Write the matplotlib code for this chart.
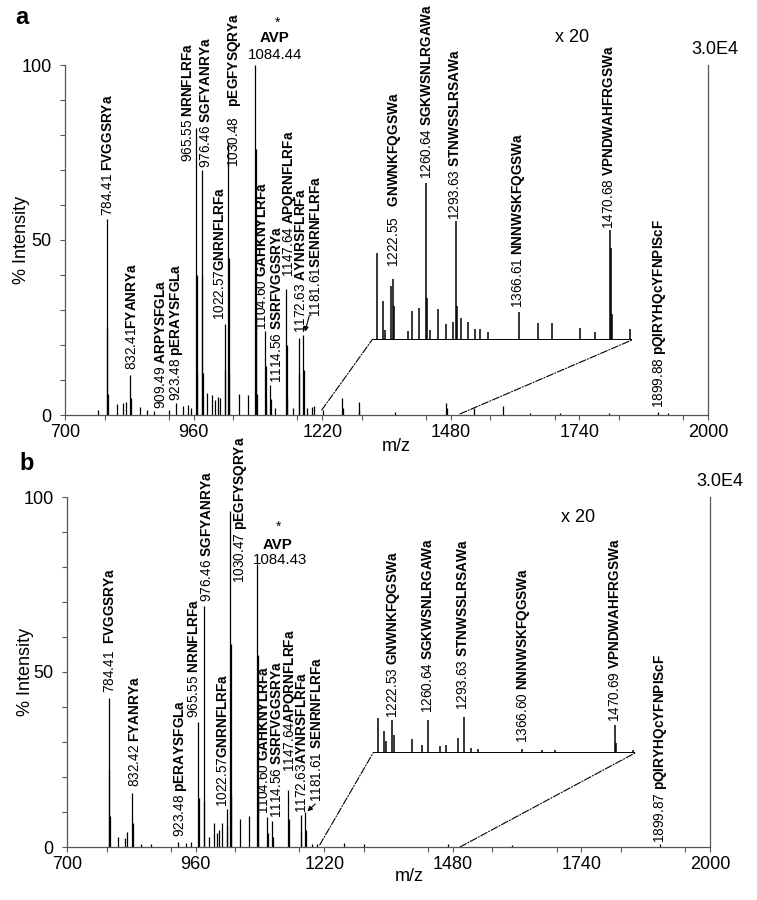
import matplotlib
matplotlib.use("Agg")
import matplotlib.pyplot as plt
from matplotlib.patches import ConnectionPatch
from matplotlib.ticker import MultipleLocator

plt.rcParams["font.family"] = ["Liberation Sans", "DejaVu Sans"]
plt.rcParams["mathtext.fontset"] = "custom"
plt.rcParams["mathtext.rm"] = "Liberation Sans"
plt.rcParams["mathtext.bf"] = "Liberation Sans:bold"

# ---- panel a: main spectrum (m/z, % intensity) ----
mz_a = [767, 784.41, 785.41, 786.41, 805, 818, 823, 832.41, 833.41, 852, 866, 880,
        909.49, 923.48, 938, 949, 955, 965.55, 966.55, 967.55, 976.46, 977.46, 978.46,
        987, 997, 1003, 1009, 1013, 1022.57, 1023.57, 1030.48, 1031.48, 1032.48,
        1052, 1070, 1084.44, 1085.44, 1086.44, 1087.44, 1104.60, 1105.60, 1106.60,
        1114.56, 1115.56, 1125, 1147.64, 1148.64, 1149.64, 1160, 1172.63, 1173.63,
        1181.61, 1182.61, 1190, 1199, 1204, 1222.55, 1260.64, 1261.64, 1293.63,
        1294.63, 1366.61, 1470.68, 1471.68, 1527, 1585, 1640, 1700, 1800, 1899.88, 1920]
int_a = [1.4, 56, 25, 6, 3.1, 3.4, 3.7, 11.5, 5, 2.3, 1.4, 1.2,
         1.5, 3.5, 2.6, 2.9, 2, 82, 40, 12, 70, 40, 12,
         6.3, 5.7, 4.3, 5.1, 4.9, 26, 13, 78, 45, 12,
         6, 5.7, 100, 76, 28, 6, 24, 14, 4,
         8.6, 4.5, 2, 36, 20, 5, 2, 22, 12,
         23, 13, 2, 2.3, 2.5, 1.5, 4.9, 2, 3.7,
         1.5, 0.8, 3.4, 2, 2, 2.6, 0.6, 0.5, 0.5, 1, 0.6]

# panel a: x20 expanded region (real % intensity)
inset_mz_a = [1203.9, 1210.8, 1213, 1220.3, 1222.2, 1223.5, 1240, 1243.9, 1252.6,
              1260.3, 1261.6, 1265, 1274.4, 1283.2, 1290.8, 1294.2, 1295.4, 1300.3,
              1308.6, 1316.3, 1322, 1331, 1366.6, 1388.7, 1404.7, 1436.4, 1453.5,
              1470.7, 1471.7, 1473, 1493.5]
inset_int_a = [1.24, 0.56, 0.14, 0.77, 0.87, 0.49, 0.13, 0.41, 0.46,
               2.24, 0.6, 0.14, 0.44, 0.23, 0.26, 1.7, 0.49, 0.31,
               0.26, 0.16, 0.16, 0.11, 0.4, 0.24, 0.24, 0.17, 0.11,
               1.57, 1.31, 0.37, 0.16]

lab_num_a = ["784.41", "832.41", "909.49", "923.48", "965.55", "976.46", "1022.57",
             "1030.48", "1104.60", "1114.56", "1147.64", "1172.63", "1181.61", "1899.88"]
lab_name_a = ["FVGGSRYa", "FYANRYa", "ARPYSFGLa", "pERAYSFGLa", "NRNFLRFa", "SGFYANRYa",
              "GNRNFLRFa", "pEGFYSQRYa", "GAHKNYLRFa", "SSRFVGGSRYa", "APQRNFLRFa",
              "AYNRSFLRFa", "SENRNFLRFa", "pQIRYHQcYFNPIScF"]
inset_num_a = ["1222.55", "1260.64", "1293.63", "1366.61", "1470.68"]
inset_name_a = ["GNWNKFQGSWa", "SGKWSNLRGAWa", "STNWSSLRSAWa", "NNNWSKFQGSWa", "VPNDWAHFRGSWa"]

# ---- panel b ----
mz_b = [784.41, 785.41, 786.41, 803, 817, 821, 832.42, 833.42, 850, 870, 923.48, 940, 950,
        965.55, 966.55, 976.46, 977.46, 987, 997, 1003, 1008, 1013, 1022.57, 1023.57,
        1030.47, 1031.47, 1032.47, 1050, 1068, 1084.43, 1085.43, 1086.43, 1104.60,
        1105.60, 1114.56, 1115.56, 1147.64, 1148.64, 1172.63, 1173.63, 1181.61, 1182.61,
        1195, 1205, 1260, 1300, 1470, 1600, 1899.87]
int_b = [42.5, 22, 9, 2.9, 2.5, 4.3, 15.4, 7, 1, 1, 1.5, 1.2, 1.5,
         35.7, 14, 69, 13, 3, 7, 4, 5, 7, 11, 6,
         96, 58, 15, 8, 8.9, 81, 55, 15, 8.6,
         4, 7.4, 3, 16.3, 8, 9.1, 4.5, 10, 5,
         1, 1, 1.2, 0.8, 0.8, 0.5, 0.8]

inset_mz_b = [1206.1, 1212.8, 1215, 1221.7, 1223.5, 1243.4, 1254.6, 1262, 1275, 1281.4,
              1294.9, 1301.9, 1310, 1318, 1366.4, 1388.7, 1403.6, 1470.7, 1472, 1490.8]
inset_int_b = [0.5, 0.31, 0.17, 0.47, 0.26, 0.2, 0.11, 0.47, 0.1, 0.11,
               0.21, 0.51, 0.07, 0.06, 0.06, 0.04, 0.04, 0.4, 0.14, 0.04]

lab_num_b = ["784.41", "832.42", "923.48", "965.55", "976.46", "1022.57", "1030.47",
             "1104.60", "1114.56", "1147.64", "1172.63", "1181.61", "1899.87"]
lab_name_b = ["FVGGSRYa", "FYANRYa", "pERAYSFGLa", "NRNFLRFa", "SGFYANRYa", "GNRNFLRFa",
              "pEGFYSQRYa", "GAHKNYLRFa", "SSRFVGGSRYa", "APQRNFLRFa", "AYNRSFLRFa",
              "SENRNFLRFa", "pQIRYHQcYFNPIScF"]
inset_num_b = ["1222.53", "1260.64", "1293.63", "1366.60", "1470.69"]
inset_name_b = inset_name_a

# ---- label layout (m/z, % of label bottom) ----
lab_pos_a = [(787, 57), (835.5, 12.9), (895, 1.7), (924.5, 4), (948.7, 72.3), (985, 70.6),
             (1013.4, 27.1), (1043.7, 70.9), (1099, 24.3), (1128.6, 9.1), (1152.9, 39.4),
             (1178, 23.4), (1208, 28), (1901, 2)]
lab_gap_a = [" ", "", " ", " ", " ", " ", "", "   ", " ", " ", " ", " ", "", " "]
inset_pos_a = [(1224.8, 1.04), (1261.4, 2.3), (1293.4, 1.72), (1366.6, 0.46), (1469.5, 1.58)]
inset_gap_a = ["   ", " ", " ", " ", " "]

lab_pos_b = [(786.9, 44), (837.5, 17.1), (928.5, 2.9), (956.8, 36.9), (983.1, 70),
             (1015.4, 11.4), (1049.8, 75.4), (1098.3, 9.4), (1124.6, 8.3), (1150.9, 21.4),
             (1175.5, 9.7), (1205, 12.9), (1900.9, 1.1)]
lab_gap_b = ["  ", " ", " ", " ", " ", "", " ", " ", " ", "", "", " ", " "]
inset_pos_b = [(1222.5, 0.5), (1261.6, 0.57), (1300.8, 0.61), (1367.9, 0.14), (1470.7, 0.44)]
inset_gap_b = [" ", " ", " ", " ", " "]

FS = 9.8


def peak_label(ax, x, y, num, gap, name):
    ax.text(x, y, num + gap + r"$\mathbf{" + name + "}$", rotation=90, ha="center",
            va="bottom", fontsize=FS, clip_on=False)


def draw_panel(ax, mz, inten, labs, inset_spec, avp, arrow, conn, extras):
    ax.vlines(mz, 0, inten, color="black", lw=0.9)
    ax.set_xlim(700, 2000)
    ax.set_ylim(0, 100)
    ax.set_xticks(range(700, 2001, 260))
    ax.xaxis.set_minor_locator(MultipleLocator(130))
    ax.set_yticks([0, 50, 100])
    ax.yaxis.set_minor_locator(MultipleLocator(10))
    ax.spines["top"].set_visible(False)
    for s in ["left", "bottom", "right"]:
        ax.spines[s].set_color("#555555")
        ax.spines[s].set_linewidth(0.9)
    ax.tick_params(which="both", direction="out", length=3.5, width=0.8, color="#555555",
                   labelsize=13)
    ax.tick_params(axis="y", pad=6)
    ax.tick_params(axis="x", pad=3)

    for (x, y), num, gap, name in zip(*labs):
        peak_label(ax, x, y, num, gap, name)

    # x20 expanded region
    rect, xlim, imz, iint, ipos, inum, igap, iname = inset_spec
    ins = ax.inset_axes(rect)
    ins.set_xlim(*xlim)
    ins.set_ylim(0, rect[3] * 100 / 20)
    ins.axis("off")
    ins.vlines(imz, 0, iint, color="black", lw=1.1)
    ins.hlines(0, xlim[0], xlim[1], color="black", lw=1.4)
    for (x, y), num, gap, name in zip(ipos, inum, igap, iname):
        peak_label(ins, x, y, num, gap, name)

    for (xa, ya), xb in conn:
        cp = ConnectionPatch(xyA=(xa, ya), coordsA=ax.transData, xyB=(xb, 0),
                             coordsB=ins.transData, ls="-.", lw=0.8, color="black")
        ax.add_artist(cp)

    # AVP annotation
    (sx, sy), (ax_, ay), (nx, ny), avp_num = avp
    ax.text(sx, sy, "*", ha="center", va="center", fontsize=FS, clip_on=False)
    ax.text(ax_, ay, "AVP", ha="center", va="center", fontsize=FS + 1, fontweight="bold",
            clip_on=False)
    ax.text(nx, ny, avp_num, ha="center", va="center", fontsize=FS + 1, clip_on=False)

    ax.annotate("", xy=arrow[1], xytext=arrow[0],
                arrowprops=dict(arrowstyle="-|>", color="black", lw=0.8,
                                mutation_scale=7, shrinkA=0, shrinkB=0))

    (x20x, x20y), (ex, ey), ylab_x, xlab_xy = extras
    ax.text(x20x, x20y, "x 20", ha="center", va="center", fontsize=13, clip_on=False)
    ax.text(ex, ey, "3.0E4", ha="center", va="center", fontsize=13, clip_on=False)
    ax.text(ylab_x, 0.5, "% Intensity", rotation=90, ha="center", va="center",
            fontsize=13, transform=ax.transAxes)
    ax.text(xlab_xy[0], xlab_xy[1], "m/z", ha="center", va="center", fontsize=13,
            transform=ax.transAxes)


fig = plt.figure(figsize=(7.57, 9), dpi=100)
ax_a = fig.add_axes([65 / 757, 1 - 415 / 900, 643 / 757, 350 / 900])
ax_b = fig.add_axes([67 / 757, 1 - 847 / 900, 643 / 757, 350 / 900])

draw_panel(
    ax_a, mz_a, int_a,
    (lab_pos_a, lab_num_a, lab_gap_a, lab_name_a),
    ([0.4774, 0.2143, 0.4044, 0.7857], (1198.5, 1495.8), inset_mz_a, inset_int_a,
     inset_pos_a, inset_num_a, inset_gap_a, inset_name_a),
    ((1128.6, 112), (1122.6, 107.7), (1125.6, 102.9), "1084.44"),
    ((1194, 28.4), (1185, 23.8)),
    [((1219, 1.4), 1198.5), ((1498.6, 0.3), 1495.8)],
    ((1725, 108), (2014, 104.3), -0.067, (0.516, -0.091)),
)

draw_panel(
    ax_b, mz_b, int_b,
    (lab_pos_b, lab_num_b, lab_gap_b, lab_name_b),
    ([0.476, 0.2686, 0.4074, 0.7314], (1200.2, 1493), inset_mz_b, inset_int_b,
     inset_pos_b, inset_num_b, inset_gap_b, inset_name_b),
    ((1126.6, 91.4), (1124.6, 86.3), (1130.6, 82), "1084.43"),
    ((1202, 12.3), (1186, 10.2)),
    [((1211, 0.6), 1200.2), ((1494.6, 0.0), 1493)],
    ((1733, 94), (2020, 104.3), -0.064, (0.532, -0.083)),
)

fig.text(22 / 757, 1 - 17 / 900, "a", fontsize=17, fontweight="bold", ha="center", va="center")
fig.text(27 / 757, 1 - 463 / 900, "b", fontsize=17, fontweight="bold", ha="center", va="center")

fig.savefig("out.png", dpi=100, facecolor="white")
